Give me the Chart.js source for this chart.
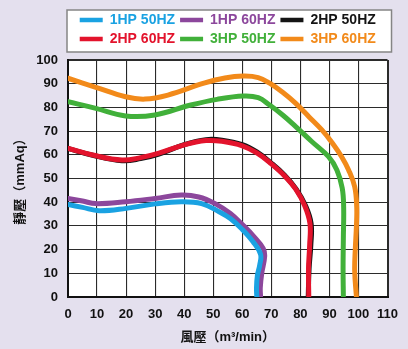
<!DOCTYPE html>
<html>
<head>
<meta charset="utf-8">
<script src="https://cdn.jsdelivr.net/npm/chart.js@4/dist/chart.umd.min.js"></script>
<style>
  html, body { margin: 0; padding: 0; background: #e4e0ee; }
  #wrap { width: 408px; height: 349px; }
</style>
</head>
<body>
<div id="wrap"><canvas id="fanChart" width="408" height="349"></canvas></div>
<script>
// Fan curves: airflow (m³/min) vs static pressure (mmAq)
const seriesNames = ['1HP 50HZ', '1HP 60HZ', '2HP 50HZ', '2HP 60HZ', '3HP 50HZ', '3HP 60HZ'];

const hp1Hz50 = [[0, 39], [5, 37.8], [10.7, 36.4], [20, 37.4], [30, 39.3], [39, 40.2], [46, 39.4], [52, 36], [56, 33], [60, 28.5], [63.7, 23.3], [66.3, 18], [66, 13.5], [65.2, 9], [64.9, 4], [65, 0]];
const hp1Hz60 = [[0, 41.6], [5, 40.5], [9.6, 39.4], [19.8, 40.2], [30, 41.6], [39, 43], [45, 42.2], [50.5, 39.5], [55.8, 35.3], [60.5, 30], [64, 25.5], [67.2, 20.5], [67.7, 17], [66.7, 10], [66.2, 4], [66.3, 0]];
const hp2Hz50 = [[0, 62.7], [8.5, 59.8], [18.6, 57.5], [25, 58.4], [31, 60.2], [40, 64.3], [47.5, 66.4], [53, 66.2], [60, 64.3], [65, 61.2], [70, 56.5], [74.5, 51.5], [78.5, 45.6], [81.8, 38.5], [83.7, 31], [83.6, 22], [83, 12], [82.7, 0]];
const hp2Hz60 = [[0, 62.7], [8.5, 59.9], [18.6, 57.8], [25, 58.8], [31, 60.6], [40, 64.2], [47.5, 66], [53, 65.7], [60, 63.8], [65, 60.8], [70, 56.2], [74.5, 51.2], [78.4, 45.5], [81.5, 38.5], [83.3, 31], [83.2, 22], [82.8, 12], [82.9, 0]];
const hp3Hz50 = [[0, 82.4], [9.6, 79.6], [19.8, 76.4], [29.9, 76.8], [42.3, 81], [51.3, 83.4], [60.4, 84.8], [65.5, 84.1], [69.4, 81], [73.9, 76.8], [78.4, 71.9], [84, 65.5], [89.7, 59.2], [92.6, 53.5], [94.4, 46], [94.9, 38], [94.8, 25], [94.7, 12], [94.8, 0]];
const hp3Hz60 = [[0, 92.3], [9.6, 88.5], [19.8, 84.5], [26.5, 83.5], [34.4, 85.2], [46.8, 90.2], [54, 92.4], [60.4, 93.2], [65.5, 92.6], [69.4, 90.2], [74, 86.3], [78.4, 81.7], [83, 76], [87.4, 70.5], [91, 65], [94.2, 59.2], [96.6, 53.6], [98.7, 46.5], [99.4, 38], [99.3, 30], [98.9, 20], [98.7, 11], [99.3, 0]];

const seriesData = [hp1Hz50, hp1Hz60, hp2Hz50, hp2Hz60, hp3Hz50, hp3Hz60];
const seriesColors = ['#1aa2e2', '#8c479c', '#141414', '#e3132c', '#41b03a', '#f28a1a'];

const xMax = 110, xStep = 10;
const yMax = 100, yStep = 10;

const latinFont = '"Liberation Sans", Arial, "Noto Sans CJK TC", sans-serif';

// paints the lavender page, the white legend card and the white plot area
const panelPlugin = {
  id: 'panels',
  beforeDraw(chart) {
    const { ctx, chartArea, legend } = chart;
    ctx.save();
    ctx.fillStyle = '#e4e0ee';
    ctx.fillRect(0, 0, chart.width, chart.height);

    const lx = legend.left - 1, ly = legend.top + 2;
    const lw = legend.width + 5, lh = legend.height - 6;
    ctx.fillStyle = '#ffffff';
    ctx.fillRect(lx, ly, lw, lh);
    ctx.strokeStyle = '#858585';
    ctx.lineWidth = 1.5;
    ctx.strokeRect(lx, ly, lw, lh);

    ctx.fillStyle = '#ffffff';
    ctx.fillRect(chartArea.left, chartArea.top, chartArea.right - chartArea.left, chartArea.bottom - chartArea.top);
    ctx.restore();
  }
};

const datasets = seriesNames.map((name, i) => ({
  label: name,
  data: seriesData[i].map(([x, y]) => ({ x, y })),
  borderColor: seriesColors[i],
  backgroundColor: seriesColors[i],
  borderWidth: 5,
  borderCapStyle: 'round',
  borderJoinStyle: 'round',
  showLine: true,
  tension: 0.4,
  pointRadius: 0,
  xAxisID: 'x',
  yAxisID: 'y',
  // red and black overlap: keep red painted over black
  order: i === 2 ? 1 : 0
}));

const gridWidth = (ctx, edgeA, edgeB) => {
  const v = ctx.tick ? ctx.tick.value : null;
  return (v === edgeA || v === edgeB) ? 2 : 1.1;
};

new Chart(document.getElementById('fanChart'), {
  type: 'scatter',
  data: { datasets },
  options: {
    responsive: false,
    animation: false,
    layout: { padding: { top: 8, right: 15, left: 0, bottom: 0 } },
    plugins: {
      tooltip: { enabled: false },
      legend: {
        position: 'top',
        fullSize: false,
        labels: {
          usePointStyle: true,
          pointStyle: 'line',
          pointStyleWidth: 23,
          padding: 5,
          font: { family: latinFont, size: 14, weight: 'bold' },
          sort: (a, b) => a.datasetIndex - b.datasetIndex,
          generateLabels: chart =>
            Chart.defaults.plugins.legend.labels.generateLabels(chart).map(item => ({
              ...item,
              lineWidth: 4.5,
              fontColor: item.strokeStyle
            }))
        }
      }
    },
    scales: {
      x: {
        type: 'linear',
        position: 'bottom',
        min: 0,
        max: xMax,
        afterFit: s => { s.height = 52; },
        ticks: {
          stepSize: xStep,
          padding: 10,
          color: '#111',
          font: { family: latinFont, size: 13, weight: 'bold' }
        },
        grid: {
          color: '#2b2b2b',
          lineWidth: ctx => gridWidth(ctx, 0, xMax),
          drawTicks: false
        },
        border: { display: true, color: '#111', width: 2 },
        title: {
          display: true,
          text: '風壓（m³/min）',
          color: '#111',
          padding: { top: 1 },
          font: { family: latinFont, size: 13, weight: 'bold' }
        }
      },
      gap: {
        type: 'linear',
        position: 'top',
        display: true,
        afterFit: s => { s.height = 4; },
        grid: { display: false },
        ticks: { display: false },
        border: { display: false }
      },
      y: {
        type: 'linear',
        min: 0,
        max: yMax,
        afterFit: s => { s.width = 68; },
        ticks: {
          stepSize: yStep,
          padding: 10,
          color: '#111',
          font: { family: latinFont, size: 13, weight: 'bold' }
        },
        grid: {
          color: '#2b2b2b',
          lineWidth: ctx => gridWidth(ctx, 0, yMax),
          drawTicks: false
        },
        border: { display: true, color: '#111', width: 2 },
        title: {
          display: true,
          text: '靜壓（mmAq）',
          color: '#111',
          padding: { top: 13 },
          font: { family: latinFont, size: 13, weight: 'bold' }
        }
      }
    }
  },
  plugins: [panelPlugin]
});
</script>
</body>
</html>
